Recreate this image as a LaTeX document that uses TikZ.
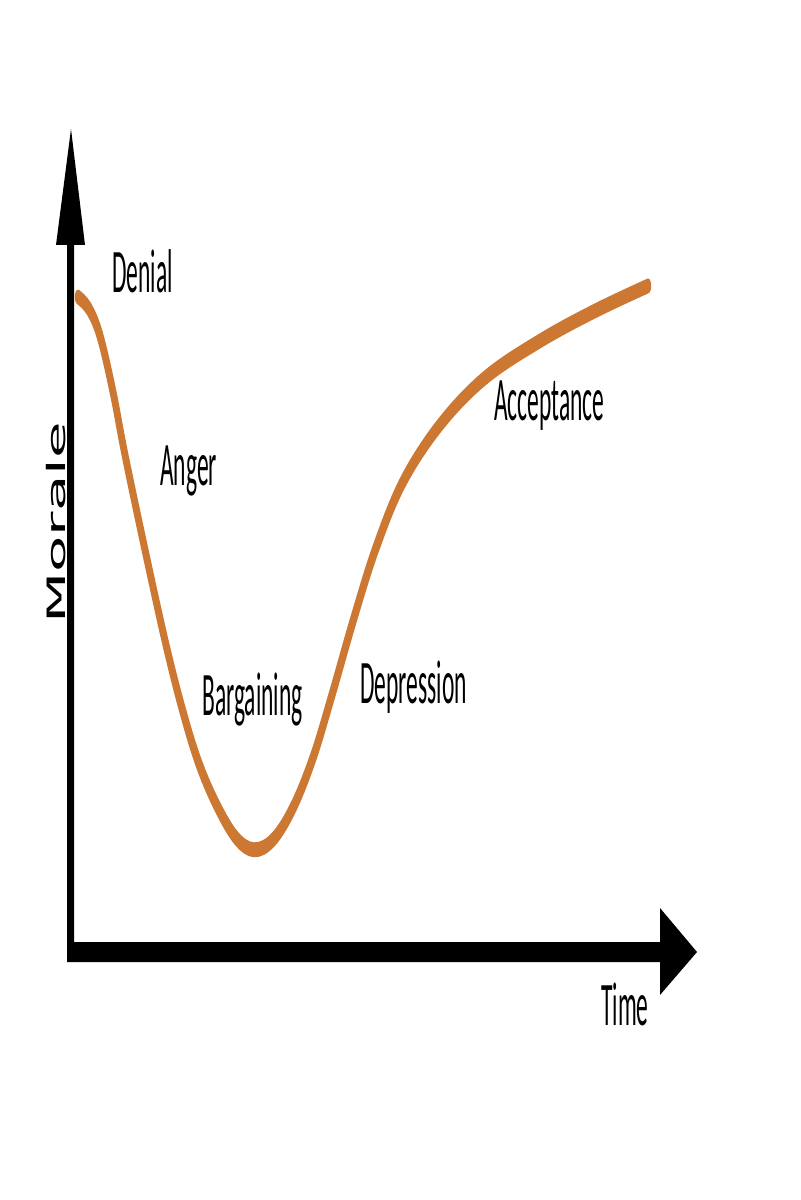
\documentclass[tikz,border=0pt]{standalone}
\usepackage{fontspec}
\setmainfont{Carlito}
\newfontfamily\moralefont{DejaVu Sans}
\definecolor{curveorange}{RGB}{205,120,50}
\tikzset{
  axisfill/.style={fill=black, draw=none},
  stagelabel/.style={anchor=base west, inner sep=0pt, font=\fontsize{44}{50}\selectfont},
  curveline/.style={draw=curveorange, line width=4.6pt, line cap=round, line join=round}
}
\newcommand{\narrow}[1]{\scalebox{0.38}[1]{#1}}
\begin{document}
\begin{tikzpicture}[x=0.025cm, y=-0.025cm]
\useasboundingbox[fill=white] (0,0) rectangle (800,1200);
% axes
\coordinate (vtip) at (71,129);
\coordinate (htip) at (697,952);
\fill[axisfill] (67,962) -- (67,245) -- (56,245) -- (vtip) -- (85,245) -- (74,245) -- (74,942) -- (660,942) -- (660,908) -- (htip) -- (660,995) -- (660,962) -- cycle;
% curve (drawn in a vertically stretched canvas)
\begin{scope}[transform canvas={yscale=2.3}, y=-0.0108696cm]
\draw[curveline] plot[smooth, tension=0.6] coordinates {
 (78,297) (89,309) (100,336) (113,392) (125,455) (145,550) (166,645)
 (183,712) (199,764) (217,806) (236,838) (254,850) (273,840) (293,808)
 (313,758) (332,695) (354,618) (376,548) (403,482) (440,425) (485,378)
 (540,341) (595,311) (648,286)};
\end{scope}
% labels
\node[stagelabel] (denial) at (112,293) {\narrow{Denial}};
\node[stagelabel] (anger) at (160,485) {\narrow{Anger}};
\node[stagelabel] (bargaining) at (202,715) {\narrow{Bargaining}};
\node[stagelabel] (depression) at (360,703) {\narrow{Depression}};
\node[stagelabel] (acceptance) at (494,420) {\narrow{Acceptance}};
\node[stagelabel] (time) at (601,1025) {\narrow{Time}};
\node[rotate=90, inner sep=0pt, font=\moralefont\fontsize{18}{20}\selectfont] (morale) at (56,523) {\scalebox{2.35}[1]{Morale}};
\end{tikzpicture}
\end{document}
